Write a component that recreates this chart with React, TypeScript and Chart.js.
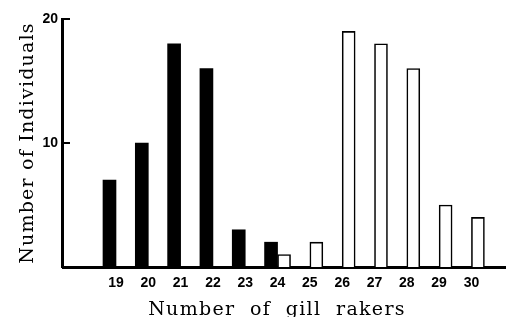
import React, { useEffect, useRef } from 'react';
import { Chart, registerables } from 'chart.js';

Chart.register(...registerables);

const categories = [19, 20, 21, 22, 23, 24, 25, 26, 27, 28, 29, 30];
const darkCounts = [7, 10, 18, 16, 3, 2, null, null, null, null, null, null];
const lightCounts = [null, null, null, null, null, 1, 2, 19, 18, 16, 5, 4];
const yTicks = [10, 20];
const xTitle = 'Number  of  gill  rakers';
const yTitle = 'Number of Individuals';

const toPoints = (vals: (number | null)[]) =>
  categories
    .map((c, i) => ({ x: c, y: vals[i] }))
    .filter((p) => p.y !== null) as { x: number; y: number }[];

const decorPlugin = {
  id: 'decor',
  afterDraw(chart: any) {
    const { ctx, chartArea, scales } = chart;
    ctx.save();
    ctx.strokeStyle = '#000';
    ctx.fillStyle = '#000';
    const top = Math.round(scales.y.getPixelForValue(20));
    ctx.fillRect(chartArea.left - 2, top - 1, 3, chartArea.bottom - top + 2);
    ctx.lineWidth = 2;
    yTicks.forEach((v) => {
      const y = Math.round(scales.y.getPixelForValue(v));
      ctx.beginPath();
      ctx.moveTo(chartArea.left - 1, y);
      ctx.lineTo(chartArea.left + 7, y);
      ctx.stroke();
    });
    ctx.font = '19px "DejaVu Serif"';
    ctx.textAlign = 'center';
    ctx.textBaseline = 'alphabetic';
    (ctx as any).letterSpacing = '1.3px';
    ctx.fillText(xTitle, 277, 315);
    (ctx as any).letterSpacing = '1.2px';
    ctx.translate(33, 143);
    ctx.rotate(-Math.PI / 2);
    ctx.fillText(yTitle, 0, 0);
    ctx.restore();
  },
};

export default function App() {
  const canvasRef = useRef<HTMLCanvasElement | null>(null);

  useEffect(() => {
    const canvas = canvasRef.current;
    if (!canvas) return;
    const chart = new Chart(canvas, {
      type: 'bar',
      data: {
        datasets: [
          {
            data: toPoints(darkCounts),
            backgroundColor: '#000',
            borderWidth: 0,
            barThickness: 13,
          },
          {
            data: toPoints(lightCounts),
            backgroundColor: '#fff',
            borderColor: '#000',
            borderWidth: 1.6,
            barThickness: 13,
          },
        ],
      },
      options: {
        responsive: false,
        animation: false,
        devicePixelRatio: 1,
        layout: { padding: { top: 19, right: 0, left: 0, bottom: 0 } },
        plugins: { legend: { display: false }, tooltip: { enabled: false } },
        scales: {
          x: {
            type: 'linear',
            min: 17.36,
            max: 31.07,
            offset: false,
            z: 1,
            afterFit: (s: any) => {
              s.height = 50;
            },
            afterBuildTicks: (s: any) => {
              s.ticks = categories.map((v) => ({ value: v }));
            },
            grid: { display: true, drawOnChartArea: false, drawTicks: false, color: 'rgba(0,0,0,0)' },
            border: { display: true, color: '#000', width: 3 },
            ticks: {
              autoSkip: false,
              maxRotation: 0,
              padding: 8,
              color: '#000',
              font: { family: '"Liberation Sans", Arial, sans-serif', size: 14, weight: 'bold' },
              callback: (v: any) => String(v),
            },
          },
          y: {
            min: 0,
            max: 20,
            z: 1,
            afterFit: (s: any) => {
              s.width = 63;
            },
            afterBuildTicks: (s: any) => {
              s.ticks = yTicks.map((v) => ({ value: v }));
            },
            grid: { display: true, drawOnChartArea: false, drawTicks: false, color: 'rgba(0,0,0,0)' },
            border: { display: false },
            ticks: {
              padding: 5,
              color: '#000',
              font: { family: '"Liberation Sans", Arial, sans-serif', size: 14, weight: 'bold' },
            },
          },
        },
      } as any,
      plugins: [decorPlugin],
    });
    return () => chart.destroy();
  }, []);

  return (
    <div style={{ position: 'absolute', left: 0, top: 0, width: 506, height: 317, background: '#fff' }}>
      <canvas ref={canvasRef} width={506} height={317} style={{ display: 'block' }} />
    </div>
  );
}
